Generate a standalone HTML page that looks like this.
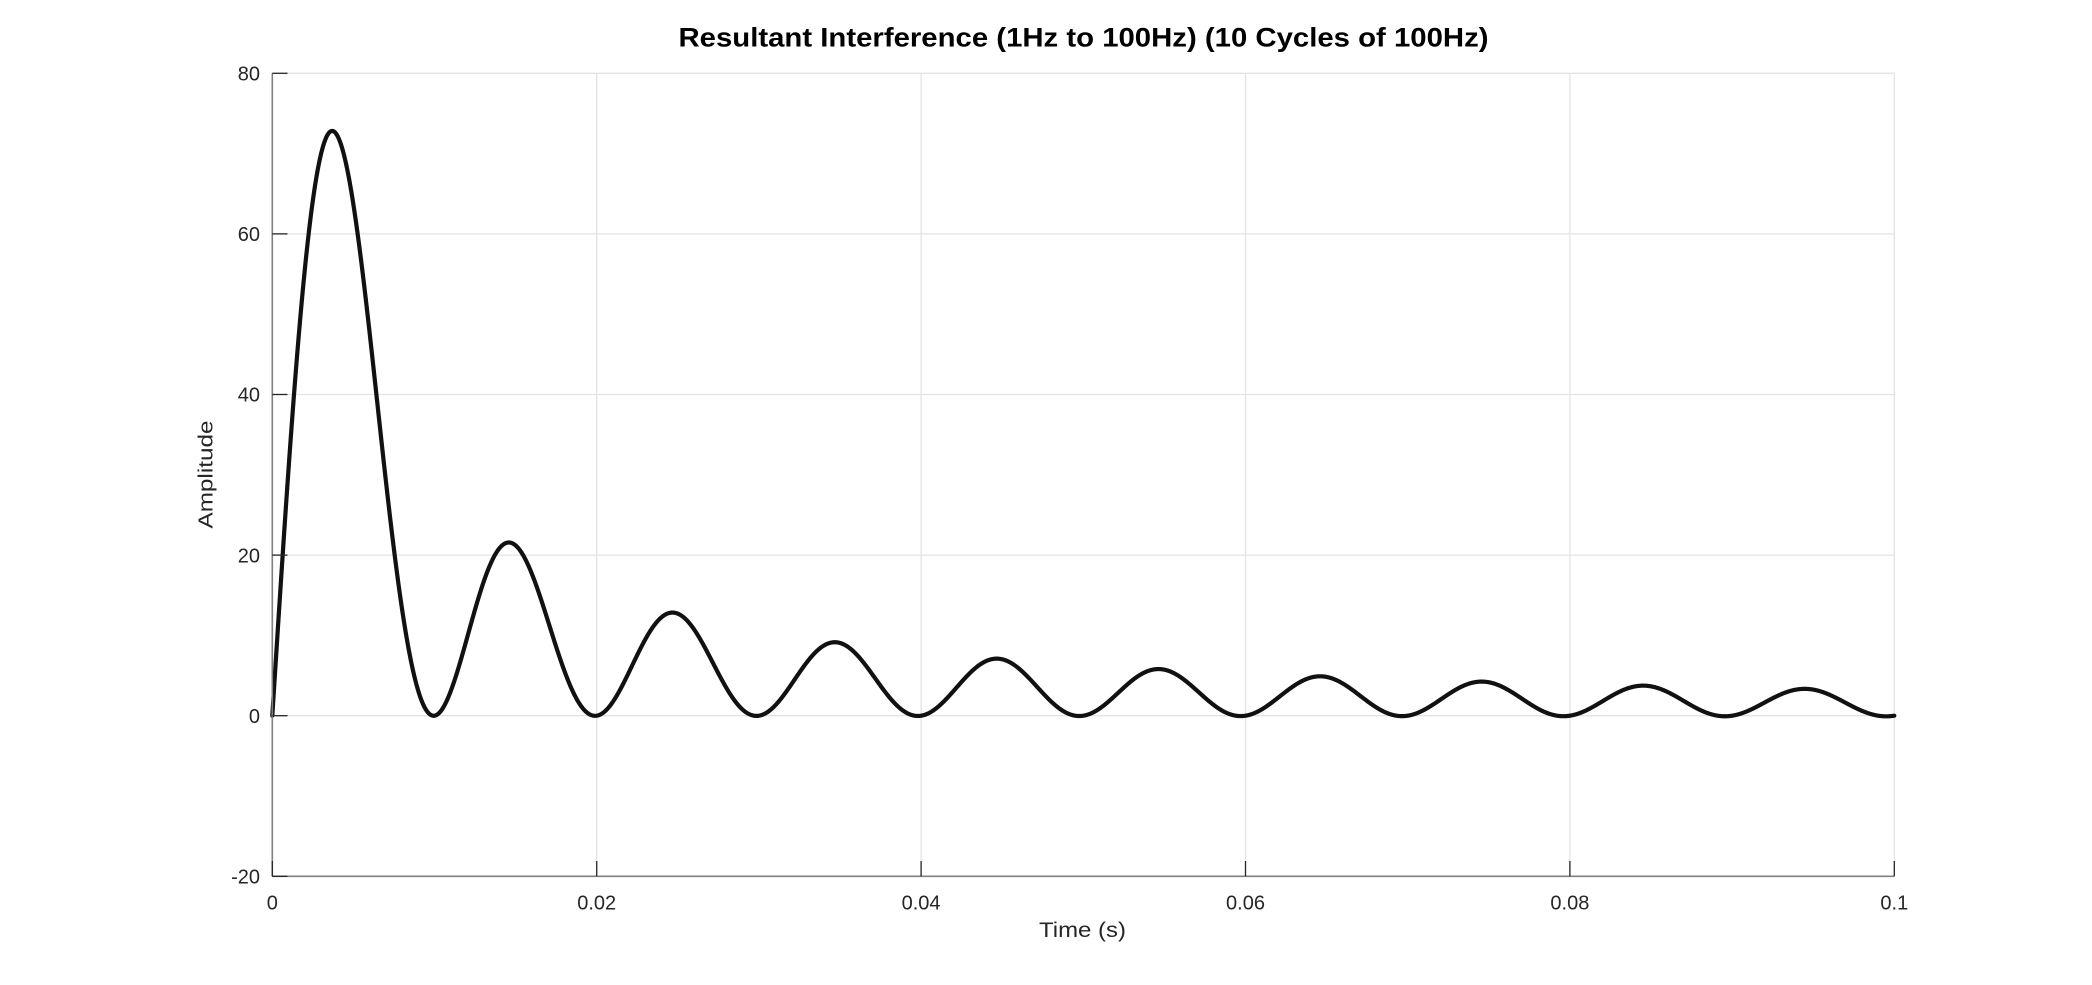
<!DOCTYPE html>
<html>
<head>
<meta charset="utf-8">
<style>
  html, body { margin:0; padding:0; background:#ffffff; }
  svg { display:block; }
  text { font-family: "Liberation Sans", Arial, sans-serif; }
</style>
</head>
<body>
<svg id="chart" width="2092" height="985" viewBox="0 0 2092 985" xmlns="http://www.w3.org/2000/svg">
  <rect x="0" y="0" width="2092" height="985" fill="#ffffff"/>
  <!-- grid -->
  <g stroke="#e3e3e3" stroke-width="1.3" fill="none">
    <line x1="272.3" y1="73.3" x2="1894.3" y2="73.3"/>
    <line x1="272.3" y1="233.9" x2="1894.3" y2="233.9"/>
    <line x1="272.3" y1="394.5" x2="1894.3" y2="394.5"/>
    <line x1="272.3" y1="555.1" x2="1894.3" y2="555.1"/>
    <line x1="272.3" y1="715.7" x2="1894.3" y2="715.7"/>
    <line x1="596.7" y1="73.3" x2="596.7" y2="876.3"/>
    <line x1="921.1" y1="73.3" x2="921.1" y2="876.3"/>
    <line x1="1245.5" y1="73.3" x2="1245.5" y2="876.3"/>
    <line x1="1569.9" y1="73.3" x2="1569.9" y2="876.3"/>
    <line x1="1894.3" y1="73.3" x2="1894.3" y2="876.3"/>
  </g>
  <!-- curve -->
  <path id="curve" fill="none" stroke="#111111" stroke-width="4.2" stroke-linejoin="round" stroke-linecap="round" d=""/>
  <!-- axes lines -->
  <g stroke="#808080" stroke-width="1.6" fill="none">
    <line x1="272.3" y1="73.3" x2="272.3" y2="876.3"/>
    <line x1="272.3" y1="876.3" x2="1894.3" y2="876.3"/>
  </g>
  <!-- ticks -->
  <g stroke="#262626" stroke-width="1.3" fill="none">
    <line x1="272.3" y1="73.3" x2="287.5" y2="73.3"/>
    <line x1="272.3" y1="233.9" x2="287.5" y2="233.9"/>
    <line x1="272.3" y1="394.5" x2="287.5" y2="394.5"/>
    <line x1="272.3" y1="555.1" x2="287.5" y2="555.1"/>
    <line x1="272.3" y1="715.7" x2="287.5" y2="715.7"/>
    <line x1="272.3" y1="876.3" x2="287.5" y2="876.3"/>
    <line x1="272.3" y1="876.3" x2="272.3" y2="861"/>
    <line x1="596.7" y1="876.3" x2="596.7" y2="861"/>
    <line x1="921.1" y1="876.3" x2="921.1" y2="861"/>
    <line x1="1245.5" y1="876.3" x2="1245.5" y2="861"/>
    <line x1="1569.9" y1="876.3" x2="1569.9" y2="861"/>
    <line x1="1894.3" y1="876.3" x2="1894.3" y2="861"/>
  </g>
  <!-- y tick labels -->
  <g fill="#262626" font-size="20" text-anchor="end">
    <text x="260" y="80.5">80</text>
    <text x="260" y="241.1">60</text>
    <text x="260" y="401.7">40</text>
    <text x="260" y="562.3">20</text>
    <text x="260" y="722.9">0</text>
    <text x="260" y="883.5">-20</text>
  </g>
  <!-- x tick labels -->
  <g fill="#262626" font-size="20" text-anchor="middle">
    <text x="272.3" y="909.3">0</text>
    <text x="596.7" y="909.3">0.02</text>
    <text x="921.1" y="909.3">0.04</text>
    <text x="1245.5" y="909.3">0.06</text>
    <text x="1569.9" y="909.3">0.08</text>
    <text x="1894.3" y="909.3">0.1</text>
  </g>
  <!-- axis labels -->
  <text x="1082.5" y="937" font-size="21" fill="#262626" text-anchor="middle" textLength="87" lengthAdjust="spacingAndGlyphs">Time (s)</text>
  <text transform="translate(212.3,474.5) rotate(-90)" x="0" y="0" font-size="20" fill="#262626" text-anchor="middle" textLength="108" lengthAdjust="spacingAndGlyphs">Amplitude</text>
  <!-- title -->
  <text x="1083.5" y="46.7" font-size="27" font-weight="bold" fill="#000000" text-anchor="middle" textLength="810" lengthAdjust="spacingAndGlyphs">Resultant Interference (1Hz to 100Hz) (10 Cycles of 100Hz)</text>
</svg>
<script>
(function(){
  var x0 = 272.3, x1 = 1894.3, yTop = 73.3, yBot = 876.3;
  var ppu = (yBot - yTop) / 100;
  function X(t){ return x0 + (t / 0.1) * (x1 - x0); }
  function Y(v){ return yTop + (80 - v) * ppu; }
  var N = 5000, d = [];
  for (var i = 0; i <= N; i++) {
    var t = 0.1 * i / N;
    var v;
    if (i === 0) v = 0;
    else v = Math.sin(100 * Math.PI * t) * Math.sin(101 * Math.PI * t) / Math.sin(Math.PI * t);
    d.push((i === 0 ? "M" : "L") + X(t).toFixed(2) + "," + Y(v).toFixed(2));
  }
  document.getElementById("curve").setAttribute("d", d.join(""));
})();
</script>
</body>
</html>
